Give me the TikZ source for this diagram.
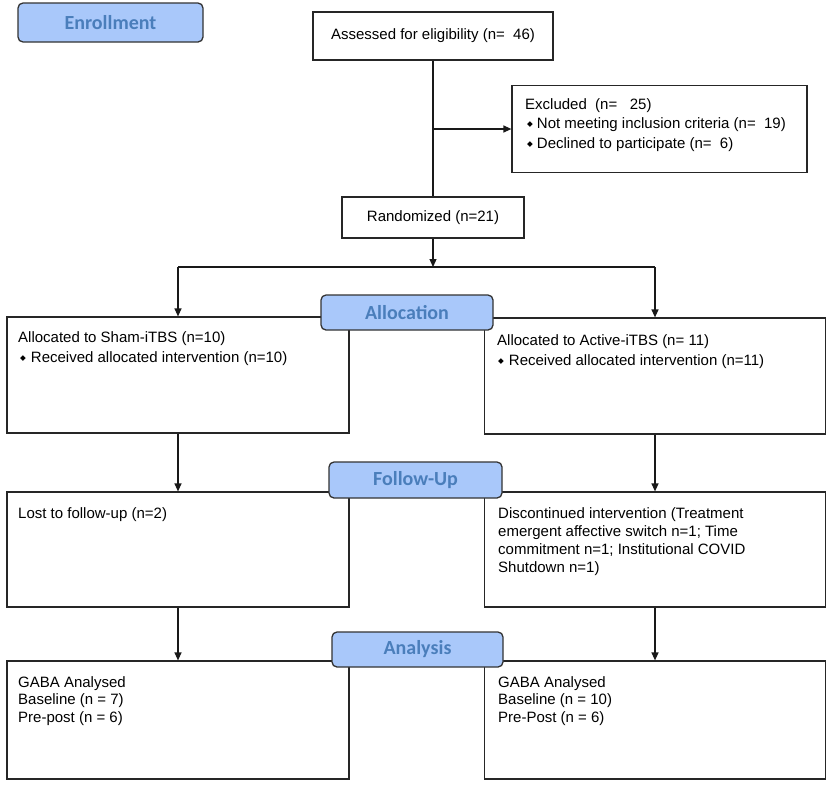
\documentclass[tikz,border=0pt]{standalone}
\usepackage{fontspec}
\setmainfont{Liberation Sans}
\newfontfamily\labelfont{Carlito}
\newfontfamily\symfont{DejaVu Sans}
\usetikzlibrary{arrows.meta,calc}
\definecolor{lblfill}{HTML}{A9C8FA}
\definecolor{lbltext}{HTML}{4A7EBB}
\newcommand\bul{\raisebox{1.8pt}{\symfont\fontsize{7.5}{7.5}\selectfont ◆}}
\begin{document}
\begin{tikzpicture}[x=1pt,y=-1pt,
  box/.style={draw=black!85, line width=1.2pt, inner sep=0pt, font=\fontsize{15}{18}\selectfont},
  txtA/.style={anchor=north west, inner sep=0pt, align=left, font=\fontsize{15}{20.5}\selectfont},
  txtB/.style={anchor=north west, inner sep=0pt, align=left, font=\fontsize{15}{18}\selectfont},
  lbl/.style={draw=black!80, line width=1.3pt, fill=lblfill, rounded corners=5pt, text=lbltext,
              font=\labelfont\bfseries\fontsize{20}{24}\selectfont, inner sep=0pt},
  ln/.style={draw=black!90, line width=1.2pt},
  arr/.style={ln, -{Triangle[length=8pt,width=7pt]}}]
\useasboundingbox (0,0) rectangle (829,785);
% boxes
\node[box, minimum width=240pt, minimum height=48pt] (assess) at (433,36) {Assessed for eligibility (n=\ \ 46)};
\node[box, minimum width=295pt, minimum height=87pt] (excl) at (659.5,129) {};
\node[txtA, font=\fontsize{15}{19.5}\selectfont] (exclt) at (525,98) {Excluded\ \ (n=\ \ \ 25)\\ \hspace*{2pt}\bul\hspace{4pt}Not meeting inclusion criteria (n=\ \ 19)\\ \hspace*{2pt}\bul\hspace{4pt}Declined to participate (n=\ \ 6)};
\node[box, minimum width=182pt, minimum height=41pt] (rand) at (433,217.5) {Randomized (n=21)};
\node[box, minimum width=342pt, minimum height=116pt] (sham) at (178,375) {};
\node[txtA] (shamt) at (18,331) {Allocated to Sham-iTBS (n=10)\\ \hspace*{2pt}\bul\hspace{5pt}Received allocated intervention (n=10)};
\node[box, minimum width=341pt, minimum height=116pt] (active) at (655,376) {};
\node[txtA] (activet) at (497,334) {Allocated to Active-iTBS (n=\ 11)\\ \hspace*{1pt}\bul\hspace{5pt}Received allocated intervention (n=11)};
\node[box, minimum width=342pt, minimum height=115pt] (lost) at (178,549.5) {};
\node[txtB] (lostt) at (18,507) {Lost to follow-up (n=2)};
\node[box, minimum width=341pt, minimum height=115pt] (disc) at (655,549.5) {};
\node[txtB] (disct) at (498,507) {Discontinued intervention (Treatment\\ emergent affective switch n=1; Time\\ commitment n=1; Institutional COVID\\ Shutdown n=1)};
\node[box, minimum width=342pt, minimum height=118pt] (gabaL) at (178,720) {};
\node[txtB, font=\fontsize{15}{17.5}\selectfont] (gabaLt) at (18,676) {GABA Analysed\\ Baseline (n = 7)\\ Pre-post (n = 6)};
\node[box, minimum width=341pt, minimum height=118pt] (gabaR) at (655,720) {};
\node[txtB, font=\fontsize{15}{17.5}\selectfont] (gabaRt) at (498,676) {GABA Analysed\\ Baseline (n = 10)\\ Pre-Post (n = 6)};
% connectors
\coordinate (split) at (433,267);
\coordinate (hl) at (178,267);
\coordinate (hr) at (655,267);
\draw[ln] (assess.south) -- (rand.north);
\draw[arr] (assess.south |- excl.west) -- (excl.west);
\draw[arr] (rand.south) -- (split);
\draw[ln] (hl) -- (hr);
\draw[arr] (hl) -- (sham.north);
\draw[arr] (hr) -- (active.north);
\draw[arr] (sham.south) -- (lost.north);
\draw[arr] (active.south) -- (disc.north);
\draw[arr] (lost.south) -- (gabaL.north);
\draw[arr] (disc.south) -- (gabaR.north);
% stage labels
\node[lbl, minimum width=185pt, minimum height=39pt] (enroll) at (110.5,22.5) {Enrollment};
\node[lbl, minimum width=172pt, minimum height=35pt] (alloc) at (407,312.5) {Allocation};
\node[lbl, minimum width=173pt, minimum height=36pt] (follow) at (415.5,480) {Follow-Up};
\node[lbl, minimum width=171pt, minimum height=35pt] (analysis) at (417.5,649.5) {Analysis};
\end{tikzpicture}
\end{document}
